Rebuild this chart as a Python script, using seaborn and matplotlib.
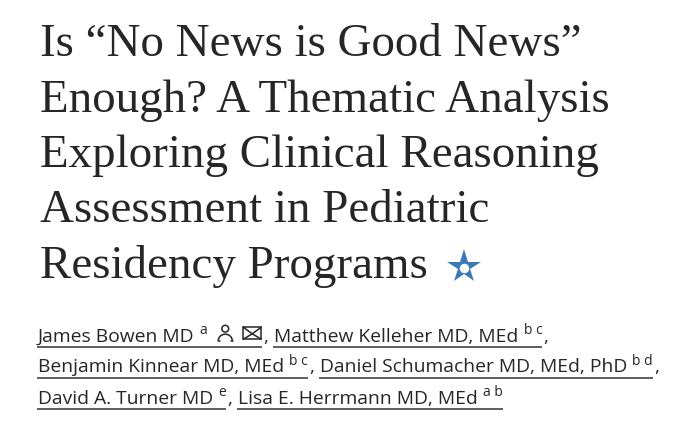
import matplotlib
matplotlib.use("Agg")
import matplotlib.pyplot as plt
import seaborn as sns
from matplotlib.patches import Circle, Arc, Rectangle

sns.set_theme(style="white")
plt.rcParams['font.family'] = ['Liberation Serif', 'DejaVu Serif']

# ---- content ----
title_lines = [
    "Is \u201cNo News is Good News\u201d",
    "Enough? A Thematic Analysis",
    "Exploring Clinical Reasoning",
    "Assessment in Pediatric",
    "Residency Programs",
]
author_names = [
    "James Bowen MD",
    "Matthew Kelleher MD, MEd",
    "Benjamin Kinnear MD, MEd",
    "Daniel Schumacher MD, MEd, PhD",
    "David A. Turner MD",
    "Lisa E. Herrmann MD, MEd",
]
author_affils = ["a", "b c", "b c", "b d", "e", "a b"]
author_rows = [0, 0, 1, 1, 2, 2]
author_icons = [True, False, False, False, False, False]

TEXT = "#262626"
STAR = "#3b78b8"
SANS = ["Open Sans", "DejaVu Sans"]

fig = plt.figure(figsize=(6.8, 4.24), dpi=100)
fig.patch.set_facecolor("white")
ax = fig.add_axes([0, 0, 1, 1])
ax.set_xlim(0, 680)
ax.set_ylim(424, 0)
ax.axis("off")
renderer = fig.canvas.get_renderer()


def extent(t):
    bb = t.get_window_extent(renderer=renderer)
    return bb.transformed(ax.transData.inverted())


def text_width(s, fs, family):
    t = ax.text(0, 200, s, fontsize=fs, family=family)
    w = extent(t).width
    t.remove()
    return w


# ---- title ----
left = 40
title_base = [56, 111.5, 167, 222.5, 278]
last = None
for line, yb in zip(title_lines, title_base):
    last = ax.text(left, yb, line, fontsize=33.8, color=TEXT, va="baseline",
                   ha="left", family=['Liberation Serif', 'DejaVu Serif'])
bb = extent(last)
sx = bb.x1 + 36
ax.plot([sx], [266.5], marker="*", markersize=25.5, color=STAR,
        markeredgewidth=0, linestyle="none")
ax.plot([sx], [267.5], marker="o", markersize=6.8, color="white",
        markeredgewidth=0, linestyle="none")

# ---- authors ----
row_base = [341.7, 372.5, 404]
name_fs = 13.9
sup_fs = 10
space_w = text_width("a a", name_fs, SANS) - text_width("aa", name_fs, SANS)
x_row = {0: 38, 1: 38, 2: 38}
for i, (name, aff, r, icons) in enumerate(zip(author_names, author_affils,
                                               author_rows, author_icons)):
    yb = row_base[r]
    x0 = x_row[r]
    t = ax.text(x0, yb, name, fontsize=name_fs, color=TEXT, va="baseline",
                ha="left", family=SANS)
    x = extent(t).x1 + space_w * 1.0
    s = ax.text(x, yb - 7.5, aff, fontsize=sup_fs, color=TEXT, va="baseline",
                ha="left", family=SANS)
    x = extent(s).x1
    if icons:
        # person icon
        px = x + 18
        ax.add_patch(Circle((px, yb - 13.0), 3.4, fill=False, ec=TEXT, lw=1.1))
        ax.add_patch(Arc((px, yb - 1.0), 14, 13, theta1=180, theta2=360,
                         ec=TEXT, lw=1.1))
        ax.plot([px - 7.5, px - 5.5], [yb - 1.0, yb - 1.0], color=TEXT, lw=1.1)
        ax.plot([px + 5.5, px + 7.5], [yb - 1.0, yb - 1.0], color=TEXT, lw=1.1)
        # envelope icon
        ex = px + 18
        ew, eh = 18, 12
        ey = yb - 14.5
        ax.add_patch(Rectangle((ex, ey), ew, eh, fill=False, ec=TEXT, lw=1.1))
        cx, cy = ex + ew / 2, ey + eh * 0.55
        ax.plot([ex, cx, ex + ew], [ey, cy, ey], color=TEXT, lw=1.1)
        ax.plot([ex, cx, ex + ew], [ey + eh, cy, ey + eh], color=TEXT, lw=1.1)
        x = ex + ew + 1
    # underline
    ax.plot([x0 - 1, x], [yb + 5, yb + 5], color="#333333", lw=1.1,
            solid_capstyle="butt")
    if i < len(author_names) - 1:
        c = ax.text(x + 1, yb, ",", fontsize=name_fs, color=TEXT,
                    va="baseline", ha="left", family=SANS)
        x_row[r] = extent(c).x1 + space_w * 1.2

fig.savefig("out.png", dpi=100, facecolor="white")
